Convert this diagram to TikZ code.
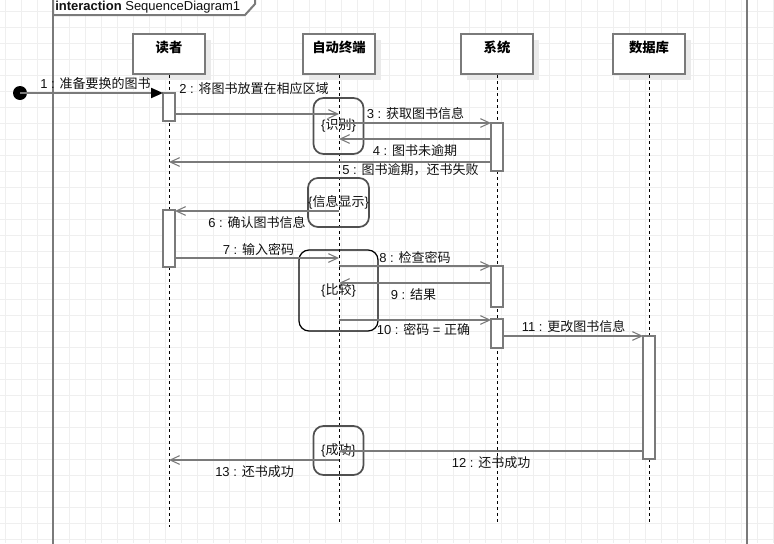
\documentclass[tikz,border=0pt]{standalone}
\usepackage{fontspec}
\setmainfont{Liberation Sans}
\newfontfamily\cjk{Noto Sans CJK SC}
\usetikzlibrary{arrows.meta,shadows}

\definecolor{gridc}{HTML}{EFEFEF}
\definecolor{linec}{HTML}{7A7A7A}
\definecolor{shadowc}{HTML}{EAEAEA}
\definecolor{invc}{HTML}{505050}
\definecolor{txtc}{HTML}{111111}

\begin{document}
\begin{tikzpicture}[
  x=0.75pt, y=-0.75pt,
  gridline/.style={draw=gridc, line width=0.75pt},
  frameline/.style={draw=linec, line width=1.5pt},
  headbox/.style={draw=linec, line width=1.5pt, fill=white,
    minimum width=54pt, inner xsep=0pt, inner ysep=0pt,
    text height=13.9pt, text depth=16.1pt,
    font=\cjk\bfseries\fontsize{10}{12}\selectfont,
    drop shadow={shadow xshift=4.5pt, shadow yshift=-4.5pt, fill=shadowc, opacity=1}},
  lifeline/.style={draw=black, line width=0.75pt, dash pattern=on 2.25pt off 2.25pt},
  actbar/.style={draw=linec, fill=white, line width=1.5pt, minimum width=9pt, inner sep=0pt},
  invbox/.style={draw=invc, line width=1.3pt, rounded corners=7.5pt, inner sep=0pt,
    font=\fontsize{9.75}{11}\selectfont, text=txtc},
  msg/.style={draw=linec, line width=1.5pt,
    -{Straight Barb[length=7pt,width=6.5pt,line width=0.8pt]}},
  firstmsg/.style={draw=linec, line width=1.5pt, -{Triangle[length=9pt,width=7.5pt,fill=black,color=black]}},
  mlabel/.style={anchor=west, inner sep=0pt, text=txtc, font=\fontsize{9.75}{11}\selectfont},
]
\useasboundingbox (0,0) rectangle (774,543);

% background grid
\foreach \gx in {5,21,...,773} \draw[gridline] (\gx,0) -- (\gx,543);
\foreach \gy in {11,27,...,539} \draw[gridline] (0,\gy) -- (774,\gy);

% interaction frame and its name tag
\draw[frameline] (53,-2) -- (53,545);
\draw[frameline] (747,-2) -- (747,545);
\filldraw[frameline, fill=white] (53,-2) -- (53,15) -- (245,15) -- (255,4) -- (255,-2);
\node[anchor=west, inner sep=0pt, text=txtc, font=\fontsize{9.75}{11}\selectfont]
  (frametag) at (55,7) {\textbf{interaction} SequenceDiagram1};

% lifeline heads
\node[headbox] (reader)   at (169,54) {读者};
\node[headbox] (terminal) at (339,54) {自动终端};
\node[headbox] (system)   at (497,54) {系统};
\node[headbox] (database) at (649,54) {数据库};

% lifelines
\coordinate (readerEnd)   at (169,527);
\coordinate (terminalEnd) at (339,522);
\coordinate (systemEnd)   at (497,522);
\coordinate (databaseEnd) at (649,522);
\draw[lifeline] (reader.south)   -- (readerEnd);
\draw[lifeline] (terminal.south) -- (terminalEnd);
\draw[lifeline] (system.south)   -- (systemEnd);
\draw[lifeline] (database.south) -- (databaseEnd);

% state invariants on the terminal lifeline
\node[invbox, minimum width=37.5pt, minimum height=42pt]    (inv1) at (338.5,126) {\{{\cjk 识别}\}};
\node[invbox, minimum width=45.75pt, minimum height=36.75pt] (inv2) at (338.5,202.5) {\{{\cjk 信息显示}\}};
\node[invbox, draw=black, line width=0.9pt, minimum width=59.25pt, minimum height=60.75pt] (inv3) at (338.5,290.5) {\{{\cjk 比较}\}};
\node[invbox, minimum width=37.5pt, minimum height=36.75pt] (inv4) at (338.5,450.5) {\{{\cjk 成功}\}};

% activation bars
\node[actbar, minimum height=21pt]    (actR1) at (169,107) {};
\node[actbar, minimum height=42.4pt]  (actR2) at (169,238.75) {};
\node[actbar, minimum height=36pt]    (actS1) at (497,147) {};
\node[actbar, minimum height=30.75pt] (actS2) at (497,286.5) {};
\node[actbar, minimum height=21.75pt] (actS3) at (497,333.5) {};
\node[actbar, minimum height=92.25pt] (actD)  at (649,397.5) {};

% message end points
\fill[black] (20,93) circle (7) coordinate (start);
\coordinate (m1b) at (163,93);
\coordinate (m2a) at (175,114);  \coordinate (m2b) at (339,114);
\coordinate (m3a) at (339,123);  \coordinate (m3b) at (491,123);
\coordinate (m4a) at (491,139);  \coordinate (m4b) at (339,139);
\coordinate (m5a) at (491,162);  \coordinate (m5b) at (169,162);
\coordinate (m6a) at (339,211);  \coordinate (m6b) at (175,211);
\coordinate (m7a) at (175,258);  \coordinate (m7b) at (339,258);
\coordinate (m8a) at (339,266);  \coordinate (m8b) at (491,266);
\coordinate (m9a) at (491,283);  \coordinate (m9b) at (339,283);
\coordinate (m10a) at (339,320); \coordinate (m10b) at (491,320);
\coordinate (m11a) at (503,336); \coordinate (m11b) at (643,336);
\coordinate (m12a) at (643,451); \coordinate (m12b) at (339,451);
\coordinate (m13a) at (339,460); \coordinate (m13b) at (169,460);

% messages
\draw[firstmsg] (start) -- (m1b);
\draw[msg] (m2a) -- (m2b);
\draw[msg] (m3a) -- (m3b);
\draw[msg] (m4a) -- (m4b);
\draw[msg] (m5a) -- (m5b);
\draw[msg] (m6a) -- (m6b);
\draw[msg] (m7a) -- (m7b);
\draw[msg] (m8a) -- (m8b);
\draw[msg] (m9a) -- (m9b);
\draw[msg] (m10a) -- (m10b);
\draw[msg] (m11a) -- (m11b);
\draw[msg] (m12a) -- (m12b);
\draw[msg] (m13a) -- (m13b);

% message labels
\node[mlabel] (l1)  at (40,84)    {1 : {\cjk 准备要换的图书}};
\node[mlabel] (l2)  at (179,89)   {2 : {\cjk 将图书放置在相应区域}};
\node[mlabel] (l3)  at (366.5,113.5) {3 : {\cjk 获取图书信息}};
\node[mlabel] (l4)  at (372.5,150.5) {4 : {\cjk 图书未逾期}};
\node[mlabel] (l5)  at (342,169.5) {5 : {\cjk 图书逾期，还书失败}};
\node[mlabel] (l6)  at (208,222.5) {6 : {\cjk 确认图书信息}};
\node[mlabel] (l7)  at (222.5,249.5) {7 : {\cjk 输入密码}};
\node[mlabel] (l8)  at (379,257.5) {8 : {\cjk 检查密码}};
\node[mlabel] (l9)  at (390.5,294.5) {9 : {\cjk 结果}};
\node[mlabel] (l10) at (376.5,329.5) {10 : {\cjk 密码} = {\cjk 正确}};
\node[mlabel] (l11) at (521.5,327) {11 : {\cjk 更改图书信息}};
\node[mlabel] (l12) at (451.5,462.5) {12 : {\cjk 还书成功}};
\node[mlabel] (l13) at (215,471.5) {13 : {\cjk 还书成功}};
\end{tikzpicture}
\end{document}
